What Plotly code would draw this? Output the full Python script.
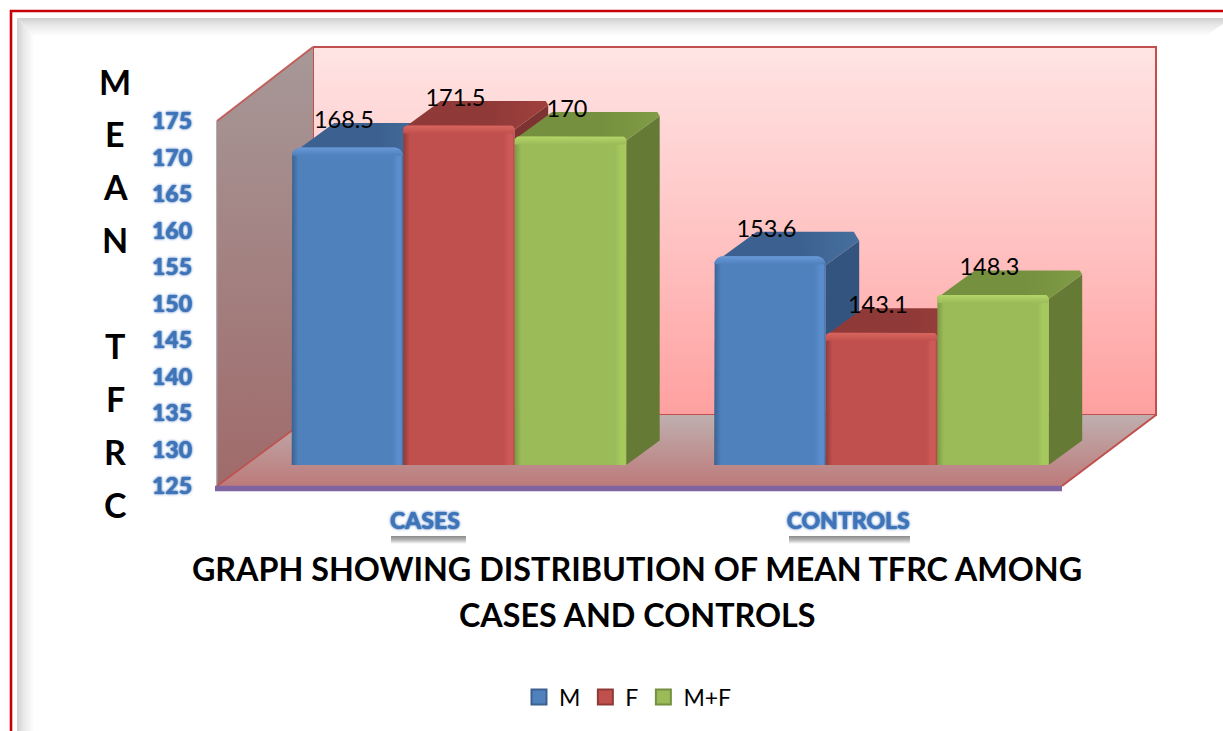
import plotly.graph_objects as go
import numpy as np

categories = ["CASES", "CONTROLS"]
series_names = ["M", "F", "M+F"]
m_values = [168.5, 153.6]
f_values = [171.5, 143.1]
mf_values = [170, 148.3]
y_ticks = [125, 130, 135, 140, 145, 150, 155, 160, 165, 170, 175]
axis_letters = ["M", "E", "A", "N", "", "T", "F", "R", "C"]
title_lines = ["GRAPH SHOWING DISTRIBUTION OF MEAN TFRC AMONG", "CASES AND CONTROLS"]

W, H = 1223, 731
PX_X = 422.5   # pixels per category
PX_Y = 7.3     # pixels per value unit
def X(p): return -0.5 + (p - 217) / PX_X
def Y(p): return 125 + (486 - p) / PX_Y

fig = go.Figure()

def poly(pts, grad=None, color=None, line=None, lw=0, closed=True):
    xs = [X(p[0]) for p in pts]
    ys = [Y(p[1]) for p in pts]
    if closed:
        xs.append(xs[0]); ys.append(ys[0])
    kw = dict(x=xs, y=ys, mode="lines", showlegend=False, hoverinfo="skip",
              line=dict(width=lw, color=line or "rgba(0,0,0,0)"))
    if grad:
        orient, stops, a, b = grad
        if orient == "h":
            st, sp = X(a), X(b)
        else:
            st, sp = Y(a), Y(b)
        kw["fill"] = "toself"
        kw["fillgradient"] = dict(type="horizontal" if orient == "h" else "vertical",
                                  colorscale=stops, start=st, stop=sp)
    elif color:
        kw["fill"] = "toself"
        kw["fillcolor"] = color
    fig.add_trace(go.Scatter(**kw))

# slide frame
poly([(17, 18), (W, 18), (W, 24), (1205, 36), (34, 36)], grad=("v", [[0, "#cfcfcf"], [0.35, "#e6e6e6"], [1, "#ffffff"]], 18, 36))
poly([(17, 18), (34, 36), (34, H), (17, H)], grad=("h", [[0, "#cfcfcf"], [0.35, "#e6e6e6"], [1, "#ffffff"]], 17, 34))
poly([(W, 11), (11, 11), (11, H)], line="#c8000a", lw=2.6, closed=False)

# walls and floor
poly([(313, 47), (1156, 47), (1156, 415), (313, 415)],
     grad=("v", [[0, "#ffe4e4"], [0.5, "#ffc4c4"], [1, "#ffa0a0"]], 47, 415), line="#c0504d", lw=2)
poly([(217, 121), (313, 47), (313, 415), (217, 486)],
     grad=("v", [[0, "#a79898"], [1, "#a06a6a"]], 47, 486))
poly([(313, 47), (217, 121)], line="#c0605c", lw=2, closed=False)
poly([(217, 121), (217, 486)], line="#a09090", lw=1.5, closed=False)
poly([(217, 486), (1062, 486), (1156, 415), (313, 415)],
     grad=("v", [[0, "#bfafaf"], [1, "#bd7a7a"]], 415, 486))
poly([(217, 486), (313, 415)], line="#c0504d", lw=1.6, closed=False)
poly([(1062, 486), (1156, 415)], line="#c0504d", lw=2, closed=False)
poly([(215, 488.5), (1062, 488.5)], line="#8064a2", lw=5.5, closed=False)

# label boxes under the tick labels
for (a, b) in [(390, 464), (788, 908)]:
    poly([(a + 1, 536), (b + 2, 536), (b + 2, 544), (a + 1, 544)],
         grad=("v", [[0, "#8a8a8a"], [0.5, "#b8b8b8"], [1, "#ffffff"]], 536, 544))
    poly([(a, 504), (b, 504), (b, 536), (a, 536)], color="#ffffff")

# bars, built from the data
BAR_W = 111.5 / PX_X
GROUP_SHIFT = 30.7 / PX_X
BASE_SHIFT = 21 / PX_Y
DEPTH_X = 33.5 / PX_X
DEPTH_Y = 24.5 / PX_Y
palette = [
    dict(edge="#3a618f", end="#3f6a9f", main="#4f81bd", hi="#5b8ccb", rim="#6a9ad8", top0="#3c6190", top1="#47709f", side="#32547e", r=9),
    dict(edge="#8f3b39", end="#a84644", main="#c0504d", hi="#cd5a56", rim="#d9655f", top0="#8f3a38", top1="#a0403e", side="#7d3331", r=4),
    dict(edge="#7c9a43", end="#a6c95e", main="#9bbb59", hi="#a6c95e", rim="#b3d668", top0="#75903f", top1="#809c45", side="#647a35", r=4),
]
R_X, R_Y = 1 / PX_X, 1 / PX_Y

def rounded_top(x0, x1, y0, y1, r):
    t = np.linspace(0, np.pi / 2, 6)
    xs = [x0] + list(x0 + r * R_X * (1 - np.cos(t))) + list(x1 - r * R_X * (1 - np.sin(t))) + [x1]
    ys = [y0] + list(y1 - r * R_Y * (1 - np.sin(t))) + list(y1 - r * R_Y * (1 - np.cos(t))) + [y0]
    return xs, ys

all_vals = [m_values, f_values, mf_values]
for c in range(len(categories)):
    for s, vals in enumerate(all_vals):
        p = palette[s]
        x0 = c + GROUP_SHIFT + (s - 1.5) * BAR_W
        x1 = x0 + BAR_W
        y0 = 125 + BASE_SHIFT
        y1 = vals[c] + BASE_SHIFT
        ins = p["r"] * R_X
        insy = p["r"] * R_Y
        # right side
        fig.add_trace(go.Scatter(
            x=[x1, x1 + DEPTH_X, x1 + DEPTH_X, x1, x1], y=[y0, y0 + DEPTH_Y, y1 + DEPTH_Y - insy, y1 - insy, y0],
            mode="lines", fill="toself", fillcolor=p["side"], line=dict(width=0),
            showlegend=False, hoverinfo="skip"))
        # top
        fig.add_trace(go.Scatter(
            x=[x0 + ins, x1, x1 + DEPTH_X, x1 + DEPTH_X - ins * 0.6, x0 + DEPTH_X + ins, x0 + ins],
            y=[y1, y1 - insy, y1 + DEPTH_Y - insy, y1 + DEPTH_Y, y1 + DEPTH_Y, y1],
            mode="lines", fill="toself", line=dict(width=0),
            fillgradient=dict(type="horizontal", start=x0, stop=x1 + DEPTH_X,
                              colorscale=[[0, p["top0"]], [0.6, p["top0"]], [1, p["top1"]]]),
            showlegend=False, hoverinfo="skip"))
        # front
        fx, fy = rounded_top(x0, x1, y0, y1, p["r"])
        fig.add_trace(go.Scatter(
            x=fx + [fx[0]], y=fy + [fy[0]], mode="lines", fill="toself", line=dict(width=0),
            fillgradient=dict(type="horizontal", start=x0, stop=x1, colorscale=[
                [0, p["edge"]], [0.06, p["main"]], [0.9, p["main"]], [0.95, p["hi"]], [0.98, p["hi"]], [1, p["end"]]]),
            name=series_names[s], showlegend=False,
            hovertemplate=f"{categories[c]} {series_names[s]}: {vals[c]}<extra></extra>"))
        # lit rim along the top
        ry = 8 / PX_Y
        tx, ty = rounded_top(x0, x1, y1 - ry, y1, p["r"])
        fig.add_trace(go.Scatter(
            x=tx + [tx[0]], y=ty + [ty[0]], mode="lines", fill="toself", line=dict(width=0),
            fillgradient=dict(type="vertical", start=y1, stop=y1 - ry, colorscale=[
                [0, p["rim"]], [1, p["main"]]]),
            showlegend=False, hoverinfo="skip"))

# data labels
LABEL_DX = -3.5 / PX_X
LABEL_DY = 25.5 / PX_Y + BASE_SHIFT
lx, ly, lt = [], [], []
for c in range(len(categories)):
    for s, vals in enumerate(all_vals):
        lx.append(c + GROUP_SHIFT + (s - 1) * BAR_W + LABEL_DX)
        ly.append(vals[c] + LABEL_DY)
        lt.append(str(vals[c]))
fig.add_trace(go.Scatter(x=lx, y=ly, text=lt, mode="text", textposition="middle center",
                         textfont=dict(family="Lato", size=23.5, color="#000000"),
                         showlegend=False, hoverinfo="skip"))

# legend entries
for s, name in enumerate(series_names):
    p = palette[s]
    fig.add_trace(go.Scatter(x=[None], y=[None], mode="markers", name=name,
                             marker=dict(symbol="square", size=15, color=p["main"],
                                         line=dict(color=p["top0"], width=2))))

# stacked axis title letters
for i, ch in enumerate(axis_letters):
    if ch:
        fig.add_annotation(x=X(115), y=Y(81 + i * 52.9), text=ch, showarrow=False,
                           font=dict(family="Lato", size=34, color="#000000", weight="bold"),
                           xanchor="center", yanchor="middle")

fig.add_annotation(x=X(637), y=Y(614), text=title_lines[1], showarrow=False,
                   font=dict(family="Lato", size=32.3, color="#000000", weight="bold"),
                   xanchor="center", yanchor="middle")

tick_font = dict(family="Lato", size=23, color="#3f74b8", weight=900,
                 shadow="0 0 3px #3a70bb, 0 0 1px #3a70bb")
fig.update_layout(
    width=W, height=H, margin=dict(l=0, r=0, t=0, b=0, autoexpand=False), autosize=False,
    paper_bgcolor="#ffffff", plot_bgcolor="#ffffff",
    xaxis=dict(range=[X(0), X(W)], domain=[0, 1], anchor="free", position=1 - 505 / H,
               tickmode="array", tickvals=[-0.008, 0.994], ticktext=categories,
               tickfont=tick_font, showgrid=False, zeroline=False, showline=False, ticklen=0),
    yaxis=dict(range=[Y(H), Y(0)], domain=[0, 1], anchor="free", position=192 / W,
               tickmode="array", tickvals=y_ticks, tickfont=tick_font,
               showgrid=False, zeroline=False, showline=False, ticklen=0),
    title=dict(text=title_lines[0], x=637 / W, xanchor="center", y=1 - 570 / H, yanchor="middle",
               font=dict(family="Lato", size=32.3, color="#000000", weight="bold")),
    legend=dict(orientation="h", x=519 / W, xanchor="left", y=1 - 697 / H, yanchor="middle",
                font=dict(family="Lato", size=23, color="#000000"), bgcolor="rgba(0,0,0,0)"),
)
fig.write_html("out.html", config={"displayModeBar": False},
               post_script="document.body.style.margin='0';document.documentElement.style.overflow='hidden';")
